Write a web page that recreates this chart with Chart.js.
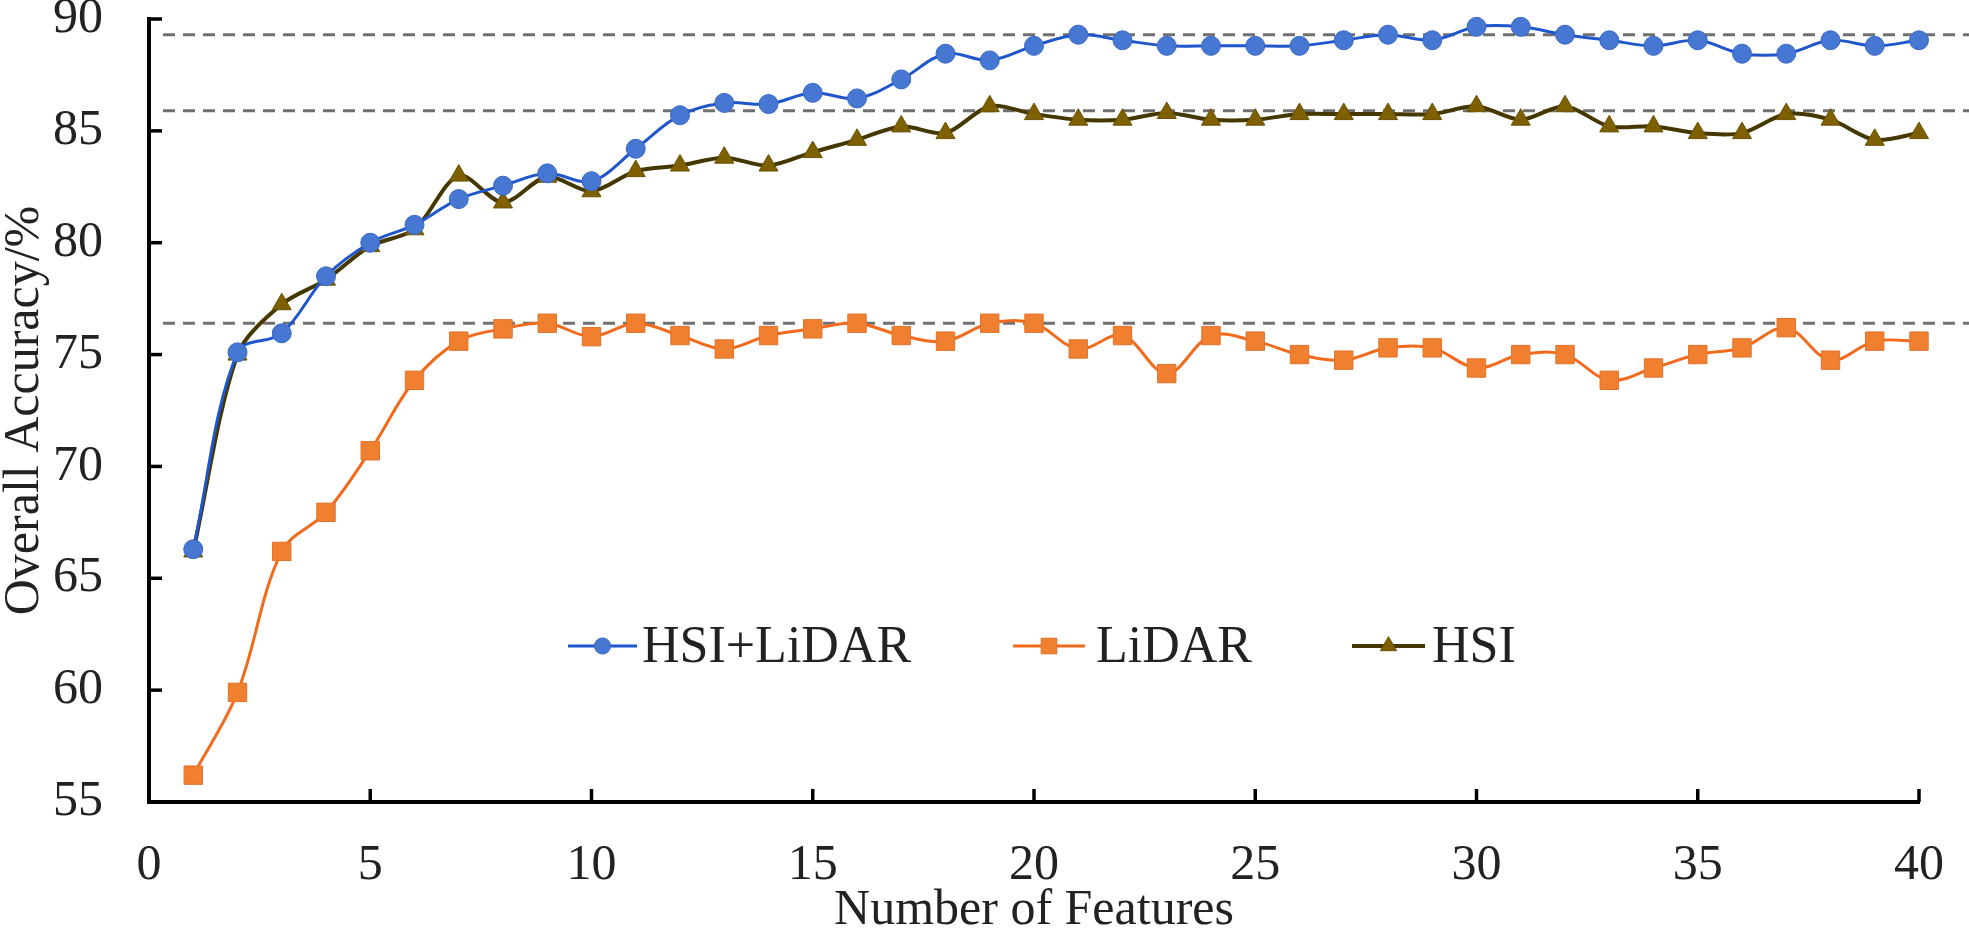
<!DOCTYPE html>
<html>
<head>
<meta charset="utf-8">
<script src="https://cdn.jsdelivr.net/npm/chart.js@4.4.1/dist/chart.umd.min.js"></script>
<style>
  html, body { margin: 0; padding: 0; background: #fff; }
  #wrap { width: 1969px; height: 943px; }
</style>
</head>
<body>
<div id="wrap"><canvas id="acc_chart"></canvas></div>
<script>
const features = [1, 2, 3, 4, 5, 6, 7, 8, 9, 10, 11, 12, 13, 14, 15, 16, 17, 18, 19, 20,
  21, 22, 23, 24, 25, 26, 27, 28, 29, 30, 31, 32, 33, 34, 35, 36, 37, 38, 39, 40];

const hsiLidar = [66.3, 75.1, 75.95, 78.5, 80.0, 80.8, 81.95, 82.55, 83.1, 82.75,
  84.2, 85.7, 86.25, 86.2, 86.7, 86.45, 87.3, 88.45, 88.15, 88.8,
  89.3, 89.05, 88.8, 88.8, 88.8, 88.8, 89.05, 89.3, 89.05, 89.65,
  89.65, 89.3, 89.05, 88.8, 89.05, 88.45, 88.45, 89.05, 88.8, 89.05];

const lidar = [56.2, 59.9, 66.2, 67.95, 70.7, 73.85, 75.6, 76.15, 76.4, 75.8,
  76.4, 75.85, 75.25, 75.85, 76.15, 76.4, 75.85, 75.6, 76.4, 76.4,
  75.25, 75.85, 74.15, 75.85, 75.6, 75.0, 74.75, 75.3, 75.3, 74.4,
  75.0, 75.0, 73.85, 74.4, 75.0, 75.3, 76.2, 74.75, 75.6, 75.6];

const hsi = [66.2, 75.0, 77.25, 78.35, 79.85, 80.6, 83.0, 81.8, 82.95, 82.3,
  83.2, 83.45, 83.8, 83.45, 84.05, 84.6, 85.2, 84.9, 86.1, 85.75,
  85.5, 85.5, 85.8, 85.5, 85.5, 85.75, 85.75, 85.75, 85.75, 86.1,
  85.5, 86.1, 85.2, 85.2, 84.9, 84.9, 85.75, 85.5, 84.6, 84.9];

const seriesNames = ["HSI+LiDAR", "LiDAR", "HSI"];
const refLines = [89.3, 85.9, 76.4];
const xTicks = [0, 5, 10, 15, 20, 25, 30, 35, 40];
const yTicks = [55, 60, 65, 70, 75, 80, 85, 90];

const toPoints = vals => features.map((f, i) => ({ x: f, y: vals[i] }));
const serif = '"Liberation Serif", "Times New Roman", serif';

// legend sits inside the plot, drawn by hand
const legendSlots = [
  { x0: 568, x1: 637, tx: 642 },
  { x0: 1013, x1: 1085, tx: 1096 },
  { x0: 1352, x1: 1425, tx: 1432 }
];
const legendY = 646;

const decor = {
  id: 'decor',
  beforeDatasetsDraw(chart) {
    const { ctx, chartArea: a, scales: { x, y } } = chart;
    ctx.save();
    ctx.strokeStyle = '#707070';
    ctx.lineWidth = 3;
    ctx.setLineDash([12, 8]);
    refLines.forEach(v => {
      const py = y.getPixelForValue(v);
      ctx.beginPath();
      ctx.moveTo(a.left + 14, py);
      ctx.lineTo(chart.width, py);
      ctx.stroke();
    });
    ctx.setLineDash([]);
    ctx.strokeStyle = '#000';
    ctx.lineWidth = 3.5;
    xTicks.forEach(t => {
      const px = x.getPixelForValue(t);
      ctx.beginPath();
      ctx.moveTo(px, a.bottom);
      ctx.lineTo(px, a.bottom - 13);
      ctx.stroke();
    });
    yTicks.forEach(t => {
      const py = y.getPixelForValue(t);
      ctx.beginPath();
      ctx.moveTo(a.left, py);
      ctx.lineTo(a.left + 13, py);
      ctx.stroke();
    });
    ctx.restore();
  },
  afterDraw(chart) {
    const ctx = chart.ctx;
    ctx.save();
    chart.data.datasets.forEach((ds, i) => {
      const s = legendSlots[i];
      ctx.strokeStyle = ds.borderColor;
      ctx.lineWidth = ds.borderWidth;
      ctx.beginPath();
      ctx.moveTo(s.x0, legendY);
      ctx.lineTo(s.x1, legendY);
      ctx.stroke();
      ctx.fillStyle = ds.pointBackgroundColor;
      ctx.strokeStyle = ds.pointBorderColor;
      ctx.lineWidth = 1;
      Chart.helpers.drawPoint(ctx, {
        pointStyle: ds.pointStyle,
        radius: ds.pointRadius * 0.85,
        borderWidth: 1,
        rotation: 0
      }, (s.x0 + s.x1) / 2, legendY);
      ctx.fillStyle = '#222';
      ctx.font = '52px ' + serif;
      ctx.textBaseline = 'middle';
      ctx.textAlign = 'left';
      ctx.fillText(seriesNames[i], s.tx, legendY + 2);
    });
    ctx.restore();
  }
};

Chart.defaults.font.family = serif;
Chart.defaults.color = '#222';

new Chart('acc_chart', {
  type: 'line',
  data: {
    datasets: [
      {
        label: seriesNames[0],
        data: toPoints(hsiLidar),
        borderColor: '#1f56cc',
        borderWidth: 3,
        pointStyle: 'circle',
        pointRadius: 9.5,
        pointBackgroundColor: '#4677d2',
        pointBorderColor: '#3a68c4',
        pointBorderWidth: 1,
        tension: 0.35,
        clip: false
      },
      {
        label: seriesNames[1],
        data: toPoints(lidar),
        borderColor: '#f26b1d',
        borderWidth: 3,
        pointStyle: 'rect',
        pointRadius: 13,
        pointBackgroundColor: '#f07f30',
        pointBorderColor: '#e0732a',
        pointBorderWidth: 1,
        tension: 0.35,
        clip: false
      },
      {
        label: seriesNames[2],
        data: toPoints(hsi),
        borderColor: '#453700',
        borderWidth: 4,
        pointStyle: 'triangle',
        pointRadius: 11,
        pointBackgroundColor: '#7f6000',
        pointBorderColor: '#6b5100',
        pointBorderWidth: 1,
        tension: 0.3,
        clip: false
      }
    ]
  },
  options: {
    responsive: true,
    maintainAspectRatio: false,
    animation: false,
    devicePixelRatio: 1,
    layout: { padding: { top: 19, right: 50, left: 0, bottom: 0 } },
    plugins: {
      legend: { display: false },
      title: { display: false },
      tooltip: { enabled: false }
    },
    scales: {
      x: {
        type: 'linear',
        min: 0,
        max: 40,
        afterBuildTicks: s => { s.ticks = xTicks.map(v => ({ value: v })); },
        afterFit: s => { s.height = 141; s.paddingLeft = 0; s.paddingRight = 0; },
        grid: { display: false, drawTicks: false },
        border: { display: true, color: '#000', width: 4 },
        ticks: { padding: 34, font: { size: 50 }, color: '#222', maxRotation: 0 },
        title: {
          display: true,
          text: 'Number of Features',
          font: { size: 50 },
          color: '#222',
          padding: { top: 0, bottom: 2 }
        }
      },
      y: {
        min: 55,
        max: 90,
        afterBuildTicks: s => { s.ticks = yTicks.map(v => ({ value: v })); },
        afterFit: s => { s.width = 149; s.paddingTop = 0; s.paddingBottom = 0; },
        grid: { display: false, drawTicks: false },
        border: { display: true, color: '#000', width: 4 },
        ticks: { padding: 46, font: { size: 50 }, color: '#222' },
        title: {
          display: true,
          text: 'Overall Accuracy/%',
          font: { size: 50, lineHeight: 1 },
          color: '#222',
          padding: { top: 0, bottom: 0 }
        }
      }
    }
  },
  plugins: [decor]
});
</script>
</body>
</html>
